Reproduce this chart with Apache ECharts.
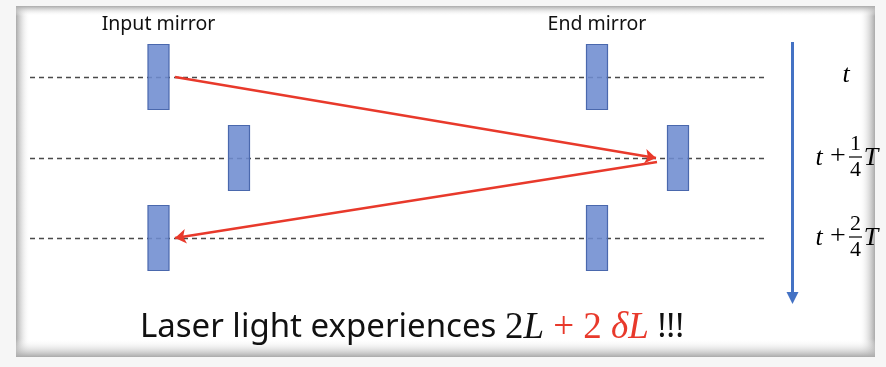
<!DOCTYPE html>
<html><head><meta charset="utf-8">
<script src="https://cdn.jsdelivr.net/npm/echarts@6/dist/echarts.min.js"></script>
<style>html,body{margin:0;padding:0;background:#fff}#c{width:886px;height:367px}</style>
</head><body><div id="c"></div>
<script>
// ---- data ----
const rowY = [77, 158, 238];                 // time slices
const timeNumerators = [0, 1, 2];            // t + n/4 T
const inputMirrorX = [158.5, 239, 158.5];    // input mirror position per slice
const endMirrorX = [597, 678, 597];          // end mirror position per slice
const mirrorNames = ['Input mirror', 'End mirror'];
const beamSegments = [
  [[175, 77], [656, 158]],
  [[657, 162], [175, 238]]
];
const dashStartX = 30, dashEndX = 768;
const timeArrow = [[792.5, 42], [792.5, 298]];
const labelX = 846;

const MW = 21, MH = 65;
const chart = echarts.init(document.getElementById('c'), null, {renderer: 'canvas'});

const mirrorData = [];
rowY.forEach((y, i) => { mirrorData.push([inputMirrorX[i], y]); mirrorData.push([endMirrorX[i], y]); });

const serif = '"Liberation Serif", "DejaVu Serif", serif';
const G = echarts.graphic;
function grad(x0, y0, x1, y1, c0, c1) {
  return new G.LinearGradient(x0, y0, x1, y1, [{offset: 0, color: c0}, {offset: 1, color: c1}]);
}
const P = {x: 16, y: 6, w: 859, h: 351};
const edgeC = 'rgba(170,170,170,1)', clr = 'rgba(255,255,255,0)';

chart.setOption({
  animation: false,
  backgroundColor: '#ffffff',
  grid: {left: 0, right: 0, top: 0, bottom: 0},
  xAxis: {type: 'value', min: 0, max: 886, show: false},
  yAxis: {type: 'value', min: 0, max: 367, inverse: true, show: false},
  graphic: [
    {type: 'rect', z: -30, shape: {x: 0, y: 0, width: 886, height: 367}, style: {fill: '#f6f6f6'}},
    {type: 'rect', z: -29, shape: {x: P.x, y: P.y, width: P.w, height: P.h}, style: {fill: '#ffffff'}},
    {type: 'rect', z: -28, shape: {x: P.x, y: P.y, width: 14, height: P.h}, style: {fill: grad(0, 0, 1, 0, edgeC, clr)}},
    {type: 'rect', z: -28, shape: {x: P.x + P.w - 16, y: P.y, width: 16, height: P.h}, style: {fill: grad(1, 0, 0, 0, edgeC, clr)}},
    {type: 'rect', z: -28, shape: {x: P.x, y: P.y, width: P.w, height: 10}, style: {fill: grad(0, 0, 0, 1, edgeC, clr)}},
    {type: 'rect', z: -28, shape: {x: P.x, y: P.y + P.h - 18, width: P.w, height: 18}, style: {fill: grad(0, 1, 0, 0, edgeC, clr)}},
    {type: 'text', z: 50, x: 158.5, y: 24, style: {text: mirrorNames[0], font: '19.5px "Noto Sans"', fill: '#111', align: 'center', verticalAlign: 'middle'}},
    {type: 'text', z: 50, x: 597, y: 24, style: {text: mirrorNames[1], font: '19.5px "Noto Sans"', fill: '#111', align: 'center', verticalAlign: 'middle'}},
    {type: 'text', z: 50, x: 412, y: 328, style: {
      text: '{a|Laser light experiences }{m|2}{mi|L}{r| + 2 }{ri|δL}{a| !!!}',
      align: 'center', verticalAlign: 'middle',
      rich: {
        a: {font: '33px "Noto Sans"', fill: '#111'},
        m: {font: '37px ' + serif, fill: '#111'},
        mi: {font: 'italic 37px ' + serif, fill: '#111'},
        r: {font: '37px ' + serif, fill: '#e8392b'},
        ri: {font: 'italic 37px ' + serif, fill: '#e8392b'}
      }
    }}
  ],
  series: [
    {
      type: 'lines', coordinateSystem: 'cartesian2d', z: 2, silent: true,
      lineStyle: {color: '#4a4a4a', width: 1.4, type: [5, 4], opacity: 1},
      data: rowY.map(y => ({coords: [[dashStartX, y], [dashEndX, y]]}))
    },
    {
      type: 'custom', z: 3, silent: true,
      data: mirrorData,
      renderItem: function (params, api) {
        const c = api.coord([api.value(0), api.value(1)]);
        const w = api.size([MW, 0])[0], h = api.size([0, MH])[1];
        return {type: 'rect', shape: {x: c[0] - w / 2, y: c[1] - h / 2, width: w, height: h},
          style: {fill: 'rgba(110,140,208,0.88)', stroke: '#4a68ad', lineWidth: 1.2}};
      }
    },
    {
      type: 'lines', coordinateSystem: 'cartesian2d', z: 5, silent: true,
      symbol: ['none', 'arrow'], symbolSize: [9, 11],
      lineStyle: {color: '#e8392b', width: 2.4, opacity: 1},
      data: beamSegments.map(s => ({coords: s}))
    },
    {
      type: 'lines', coordinateSystem: 'cartesian2d', z: 5, silent: true,
      symbol: ['none', 'triangle'], symbolSize: [12, 12],
      lineStyle: {color: '#4472c4', width: 3, opacity: 1},
      data: [{coords: timeArrow}]
    },
    {
      type: 'custom', z: 6, silent: true,
      data: rowY.map((y, i) => [labelX, y, timeNumerators[i]]),
      renderItem: function (params, api) {
        const c = api.coord([api.value(0), api.value(1)]);
        const n = api.value(2);
        const x = c[0], y = c[1];
        const it = 'italic 26px ' + serif;
        if (!n) {
          return {type: 'text', x: x, y: y - 2, style: {text: 't', font: it, fill: '#000', align: 'center', verticalAlign: 'middle'}};
        }
        return {type: 'group', children: [
          {type: 'text', x: x - 27, y: y, style: {text: 't', font: it, fill: '#000', align: 'center', verticalAlign: 'middle'}},
          {type: 'text', x: x - 8, y: y - 1, style: {text: '+', font: '28px ' + serif, fill: '#000', align: 'center', verticalAlign: 'middle'}},
          {type: 'text', x: x + 9.5, y: y - 14, style: {text: String(n), font: '22px ' + serif, fill: '#000', align: 'center', verticalAlign: 'middle'}},
          {type: 'line', shape: {x1: x + 3, y1: y - 1, x2: x + 16, y2: y - 1}, style: {stroke: '#000', lineWidth: 1.2}},
          {type: 'text', x: x + 9.5, y: y + 12, style: {text: '4', font: '22px ' + serif, fill: '#000', align: 'center', verticalAlign: 'middle'}},
          {type: 'text', x: x + 25, y: y, style: {text: 'T', font: it, fill: '#000', align: 'center', verticalAlign: 'middle'}}
        ]};
      }
    }
  ]
});
</script></body></html>
